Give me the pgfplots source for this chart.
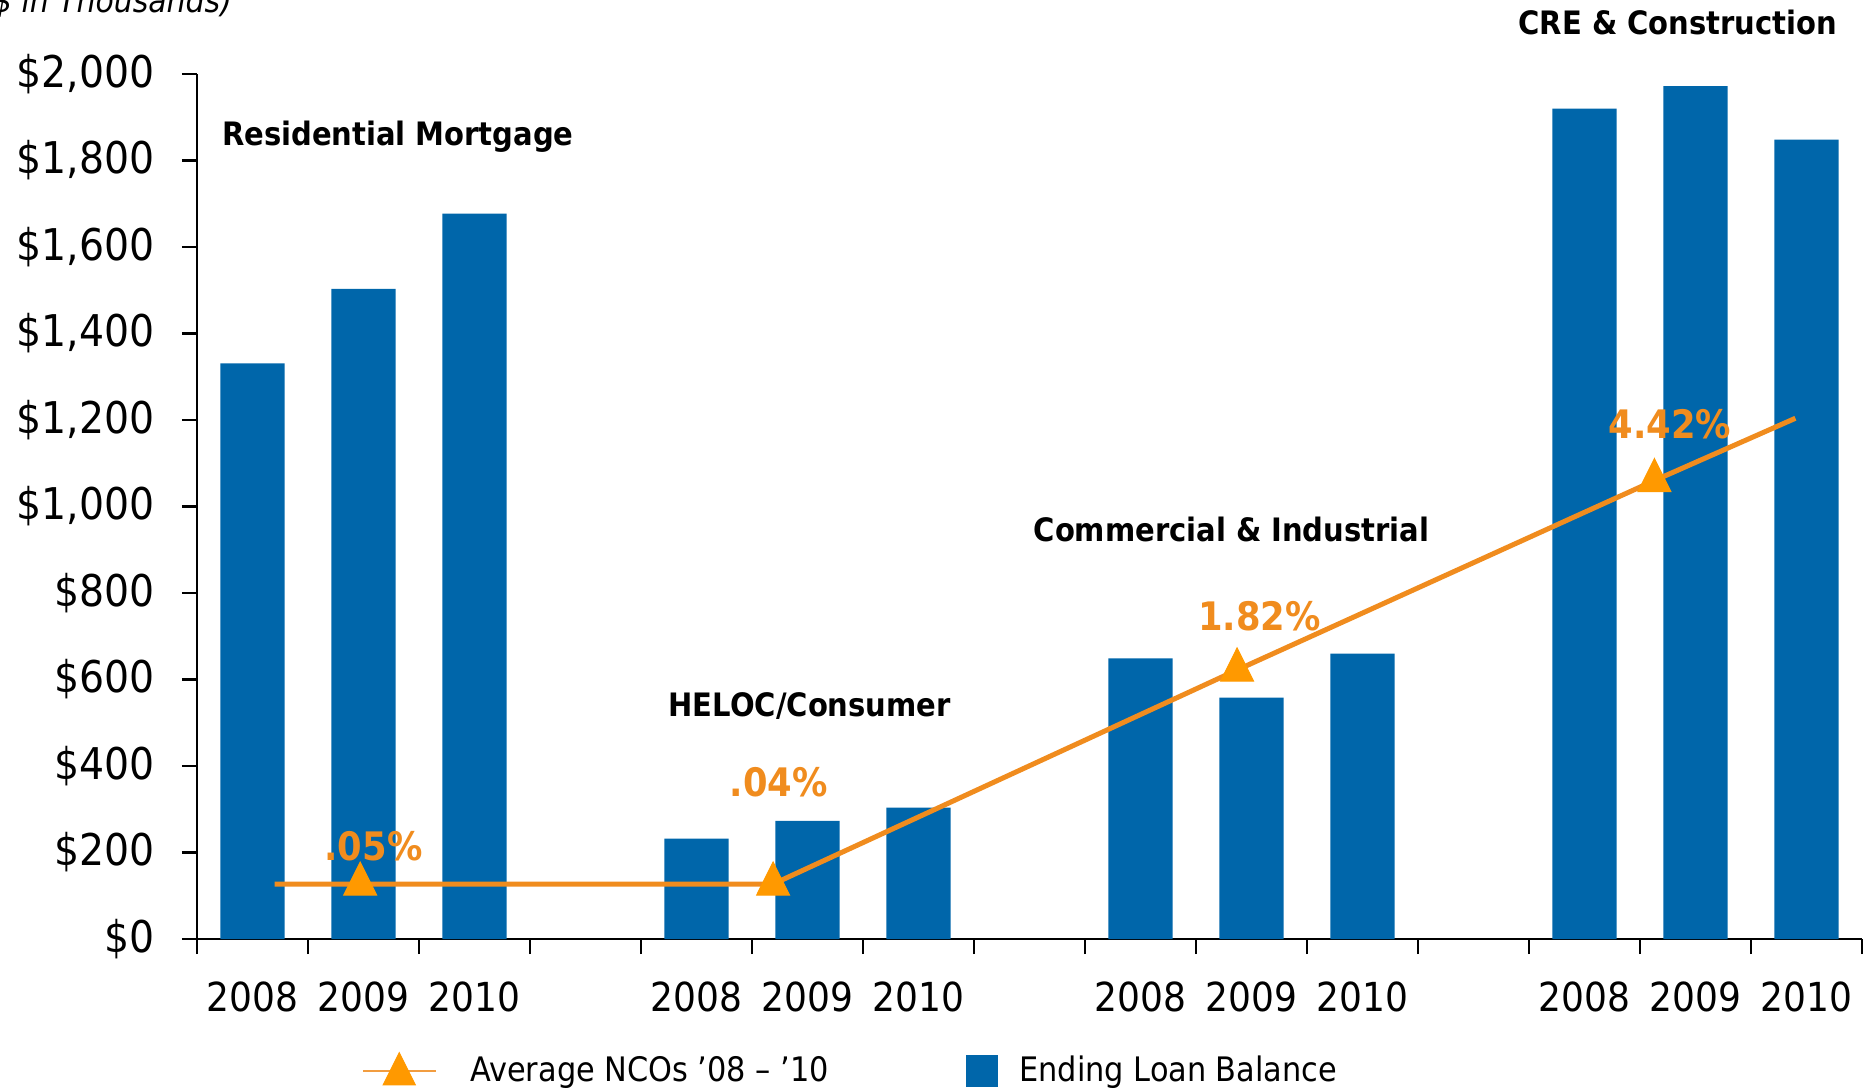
\documentclass[border=0pt]{standalone}
\usepackage{pgfplots}
\pgfplotsset{compat=1.18}
\usepackage{fontspec}
\setmainfont{DejaVu Sans Condensed}
\definecolor{barblue}{RGB}{0,102,170}
\definecolor{lineor}{RGB}{240,140,30}
\definecolor{markor}{RGB}{255,153,0}
\begin{document}
\begin{tikzpicture}
\begin{axis}[
  scale only axis, width=666pt, height=346pt,
  xmin=-0.5, xmax=14.5, ymin=0, ymax=2000,
  axis x line=bottom, axis y line=left, axis line style={-, line width=1pt},
  tick align=outside, major tick length=6pt, tick style={line width=1pt, black},
  xtick={-0.5,0.5,...,14.5}, xticklabels={},
  extra x ticks={0,1,2,4,5,6,8,9,10,12,13,14},
  extra x tick labels={2008,2009,2010,2008,2009,2010,2008,2009,2010,2008,2009,2010},
  extra x tick style={major tick length=0pt},
  ytick={0,200,...,2000},
  yticklabels={\$0,\$200,\$400,\$600,\$800,{\$1,000},{\$1,200},{\$1,400},{\$1,600},{\$1,800},{\$2,000}},
  xticklabel style={font=\fontsize{16}{19}\selectfont, yshift=-13.4pt},
  yticklabel style={font=\fontsize{17.5}{20}\selectfont, xshift=-7.6pt},
  clip=false,
  legend columns=2,
  legend style={draw=none, fill=none, at={(0.0943,-0.1526)}, anchor=west,
    font=\fontsize{13.5}{16}\selectfont,
    /tikz/every even column/.append style={column sep=53pt}},
]
\addlegendimage{legend image code/.code={\path[draw=none,fill=none] (0pt,0pt) -- (41pt,0pt); \draw[line width=0.8pt,lineor!85] (0pt,0pt) -- (29pt,0pt); \fill[markor] (8.1pt,-5.5pt) -- (20.9pt,-5.5pt) -- (14.5pt,7.3pt) -- cycle;}}
\addlegendentry{Average NCOs ’08 – ’10}
\addlegendimage{legend image code/.code={\path[draw=none,fill=none] (0pt,0pt) -- (19pt,0pt); \fill[barblue] (0pt,-6.2pt) rectangle (12.4pt,6.2pt);}}
\addlegendentry{Ending Loan Balance}

\addplot[ybar, bar width=0.58, fill=barblue, draw=none, forget plot] coordinates {
 (0,1331) (1,1503) (2,1677)
 (4,232) (5,273) (6,304)
 (8,649) (9,558) (10,660)
 (12,1920) (13,1972) (14,1848)};

\addplot[lineor, line width=2pt, forget plot] coordinates {
 (0.2,127) (4.69,127) (8.87,622) (12.63,1060) (13.9,1204)};

\addplot[only marks, mark=triangle*, mark size=7.6pt, mark options={yscale=1.16}, color=markor, forget plot] coordinates {
 (0.97,127) (4.69,127) (8.87,622) (12.63,1060)};

\node[text=lineor, font=\bfseries\fontsize{15.7}{18}\selectfont] at (axis cs:1.09,215) {.05\%};
\node[text=lineor, font=\bfseries\fontsize{15.7}{18}\selectfont] at (axis cs:4.74,362) {.04\%};
\node[text=lineor, font=\bfseries\fontsize{15.7}{18}\selectfont] at (axis cs:9.07,746) {1.82\%};
\node[text=lineor, font=\bfseries\fontsize{15.7}{18}\selectfont] at (axis cs:12.77,1190) {4.42\%};

\node[font=\bfseries\fontsize{12.9}{15}\selectfont] at (axis cs:1.31,1856) {Residential Mortgage};
\node[font=\bfseries\fontsize{12.9}{15}\selectfont] at (axis cs:5.02,539) {HELOC/Consumer};
\node[font=\bfseries\fontsize{12.9}{15}\selectfont] at (axis cs:8.82,948) {Commercial \& Industrial};
\node[font=\bfseries\fontsize{12.9}{15}\selectfont] at (axis cs:12.84,2119) {CRE \& Construction};

\node[anchor=base east, inner sep=0pt, font=\itshape\fontsize{13.3}{16}\selectfont] at (axis cs:-0.18,2143) {(\$ in Thousands)};
\end{axis}
\pgfresetboundingbox
\useasboundingbox (-78.8pt,-60.8pt) rectangle (670.4pt,375.6pt);
\end{tikzpicture}
\end{document}
